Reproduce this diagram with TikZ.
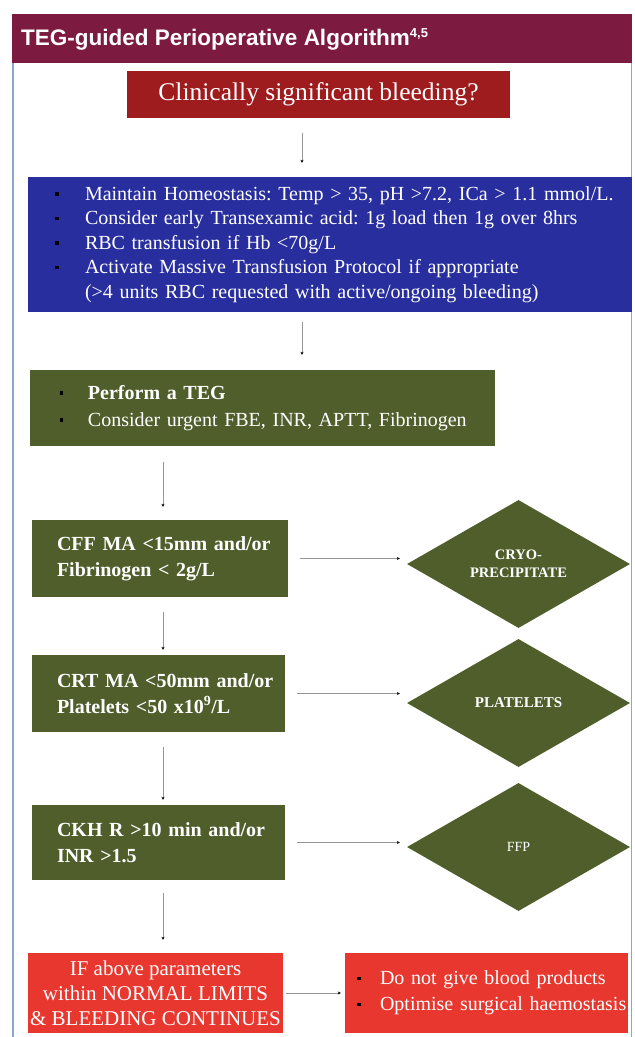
\documentclass[tikz,border=0pt]{standalone}
\usepackage{fontspec}
\setmainfont{Liberation Serif}
\newfontfamily\titlefont{Liberation Sans}
\usetikzlibrary{shapes.geometric,arrows.meta}
\definecolor{hdr}{RGB}{125,26,64}
\definecolor{clinred}{RGB}{158,27,30}
\definecolor{blueb}{RGB}{40,46,158}
\definecolor{greenb}{RGB}{79,94,43}
\definecolor{redb}{RGB}{232,55,47}
\definecolor{framec}{RGB}{140,165,210}
\definecolor{linec}{RGB}{150,150,150}
\newcommand{\sqb}{\textcolor{black}{\rule[0.22em]{3.5pt}{3.5pt}}}
\newcommand{\bltA}[1]{\hspace*{27pt}\makebox[30pt][l]{\sqb}#1}
\newcommand{\bltB}[1]{\hspace*{30pt}\makebox[28pt][l]{\sqb}#1}
\newcommand{\bltC}[1]{\hspace*{12pt}\makebox[23pt][l]{\sqb}#1}
\tikzset{
  box/.style={rectangle, inner sep=0pt, text=white, align=left},
  dia/.style={diamond, fill=greenb, inner sep=0pt, text=white, align=center},
  conn/.style={draw=linec, line width=1pt, -{Stealth[length=3pt,width=3pt,black]}},
}
\begin{document}
\frenchspacing
\begin{tikzpicture}[x=1pt,y=-1pt]
\useasboundingbox (0,0) rectangle (635,1037);
\fill[white] (0,0) rectangle (635,1037);
% header and frame
\fill[hdr] (12,14) rectangle (632,63);
\draw[framec, line width=1.5pt] (12.75,63) -- (12.75,1037);
\draw[framec, line width=1.5pt] (631.25,63) -- (631.25,1037);
\node[anchor=west, inner sep=0pt, text=white, font=\titlefont\bfseries\fontsize{22.5}{26}\selectfont] (title) at (21,39) {TEG-guided Perioperative Algorithm{\fontsize{13}{13}\selectfont\raisebox{0.62em}{4,5}}};
% coordinates for connector columns
\coordinate (c1) at (302,0);
\coordinate (c2) at (163,0);
% boxes
\node[box, fill=clinred, minimum width=383pt, minimum height=47pt, align=center, font=\fontsize{25.5}{28}\selectfont] (clin) at (318.5,94) {Clinically significant bleeding?};
\node[box, fill=blueb, minimum width=604pt, minimum height=135pt, text width=604pt, font=\fontsize{20}{24.5}\selectfont] (blue) at (330,244.5) {\bltA{Maintain Homeostasis: Temp > 35, pH >7.2, ICa > 1.1 mmol/L.}\\
\bltA{Consider early Transexamic acid: 1g load then 1g over 8hrs}\\
\bltA{RBC transfusion if Hb <70g/L}\\
\bltA{Activate Massive Transfusion Protocol if appropriate}\\
\hspace*{57pt}(>4 units RBC requested with active/ongoing bleeding)};
\node[box, fill=greenb, minimum width=465pt, minimum height=76pt, text width=465pt, font=\fontsize{20}{27}\selectfont] (teg) at (262.5,408) {\bltB{\textbf{Perform a TEG}}\\
\bltB{Consider urgent FBE, INR, APTT, Fibrinogen}};
\node[box, fill=greenb, minimum width=256pt, minimum height=77pt, text width=256pt, font=\bfseries\fontsize{20}{26}\selectfont] (cff) at (160,558.5) {\hspace*{25pt}CFF MA <15mm and/or\\\hspace*{25pt}Fibrinogen < 2g/L};
\node[box, fill=greenb, minimum width=253pt, minimum height=77pt, text width=253pt, font=\bfseries\fontsize{20}{26}\selectfont] (crt) at (158.5,693.5) {\hspace*{25pt}CRT MA <50mm and/or\\\hspace*{25pt}Platelets <50 x10\textsuperscript{9}/L};
\node[box, fill=greenb, minimum width=253pt, minimum height=75pt, text width=253pt, font=\bfseries\fontsize{20}{26}\selectfont] (ckh) at (158.5,842.5) {\hspace*{25pt}CKH R >10 min and/or\\\hspace*{25pt}INR >1.5};
% diamonds
\node[dia, minimum width=223pt, minimum height=128pt, font=\bfseries\fontsize{14.5}{18}\selectfont] (cryo) at (518.5,564) {CRYO-\\PRECIPITATE};
\node[dia, minimum width=223pt, minimum height=128pt, font=\bfseries\fontsize{15}{18}\selectfont] (plt) at (518.5,703) {PLATELETS};
\node[dia, minimum width=223pt, minimum height=128pt, font=\fontsize{14}{18}\selectfont] (ffp) at (518.5,847) {FFP};
% bottom boxes
\node[box, fill=redb, minimum width=255pt, minimum height=80pt, align=center, font=\fontsize{21}{25}\selectfont] (normal) at (155.5,993) {IF above parameters\\within NORMAL LIMITS\\\& BLEEDING CONTINUES};
\node[box, fill=redb, minimum width=283pt, minimum height=80pt, text width=283pt, font=\fontsize{20}{26}\selectfont] (nogive) at (486.5,993) {\bltC{Do not give blood products}\\\bltC{Optimise surgical haemostasis}};
% connectors
\draw[conn, shorten <=15pt, shorten >=14pt] (clin.south -| c1) -- (blue.north -| c1);
\draw[conn, shorten <=10pt, shorten >=15pt] (blue.south -| c1) -- (teg.north -| c1);
\draw[conn, shorten <=16pt, shorten >=13pt] (teg.south -| c2) -- (cff.north -| c2);
\draw[conn, shorten <=15pt, shorten >=5pt] (cff.south -| c2) -- (crt.north -| c2);
\draw[conn, shorten <=15pt, shorten >=5pt] (crt.south -| c2) -- (ckh.north -| c2);
\draw[conn, shorten <=13pt, shorten >=13pt] (ckh.south -| c2) -- (normal.north -| c2);
\draw[conn, shorten <=12pt, shorten >=7pt] (cff.east) -- (cff.east -| cryo.west);
\draw[conn, shorten <=12pt, shorten >=7pt] (crt.east) -- (crt.east -| plt.west);
\draw[conn, shorten <=12pt, shorten >=7pt] (ckh.east) -- (ckh.east -| ffp.west);
\draw[conn, shorten <=3pt, shorten >=4pt] (normal.east) -- (normal.east -| nogive.west);
\end{tikzpicture}
\end{document}
